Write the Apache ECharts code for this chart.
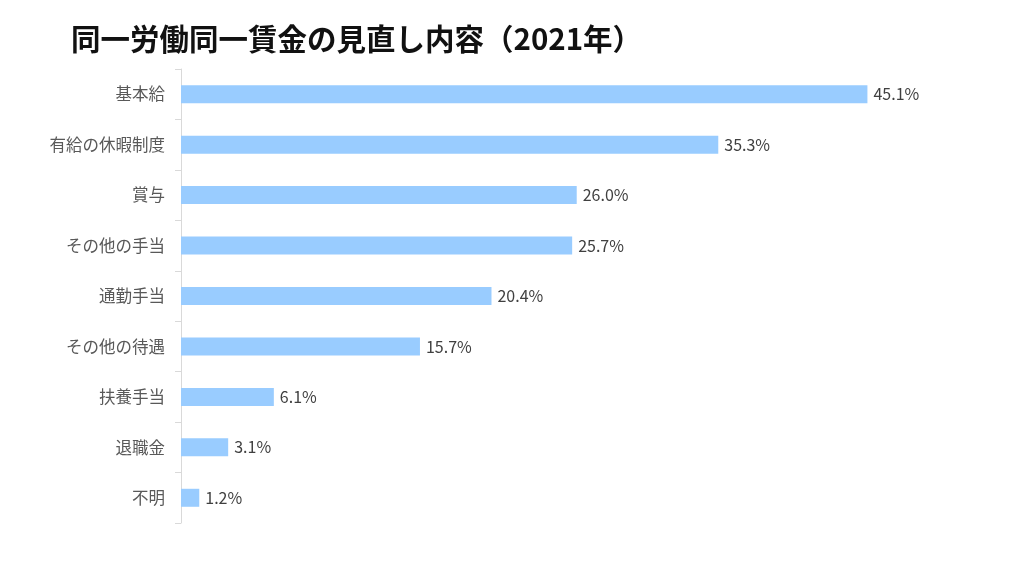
<!DOCTYPE html>
<html><head><meta charset="utf-8">
<script src="https://cdn.jsdelivr.net/npm/echarts@6/dist/echarts.min.js"></script>
<style>html,body{margin:0;padding:0;background:#fff}#c{width:1024px;height:576px}</style>
</head><body><div id="c"></div>
<script>
const categories = ['基本給','有給の休暇制度','賞与','その他の手当','通勤手当','その他の待遇','扶養手当','退職金','不明'];
const values = [45.1, 35.3, 26.0, 25.7, 20.4, 15.7, 6.1, 3.1, 1.2];
const titleText = '同一労働同一賃金の見直し内容（2021年）';

const chart = echarts.init(document.getElementById('c'));
chart.setOption({
  animation: false,
  backgroundColor: '#fff',
  title: {
    text: titleText, left: 66, top: 19,
    textStyle: {fontFamily: 'Noto Sans CJK JP', fontSize: 29.5, fontWeight: 'bold', color: '#111'}
  },
  grid: {left: 181, top: 69, width: 761, height: 454},
  xAxis: {type: 'value', min: 0, max: 50, show: false},
  yAxis: {
    type: 'category', data: categories, inverse: true,
    axisLine: {show: true, lineStyle: {color: '#d9d9d9', width: 1}},
    axisTick: {show: true, length: 6, lineStyle: {color: '#d9d9d9'}},
    axisLabel: {fontFamily: 'Noto Sans CJK JP', fontSize: 16.5, color: '#595959', margin: 16}
  },
  series: [{
    type: 'bar', data: values, barWidth: 18,
    itemStyle: {color: '#99CCFF'},
    label: {show: true, position: 'right', distance: 6,
      formatter: p => p.value.toFixed(1) + '%',
      fontFamily: 'Noto Sans CJK JP', fontSize: 16, color: '#404040'}
  }]
});
</script></body></html>
